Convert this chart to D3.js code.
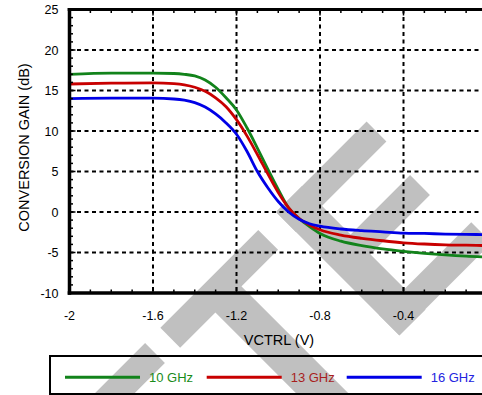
<!DOCTYPE html>
<html><head><meta charset="utf-8">
<script src="https://cdn.jsdelivr.net/npm/d3@7"></script>
<style>html,body{margin:0;padding:0;background:#fff;}svg{display:block;}</style>
</head><body>
<svg id="chart" width="482" height="395"></svg>
<script>
// ---- data ----
const vctrl = [-2.0,-1.8,-1.6,-1.5,-1.45,-1.4,-1.35,-1.3,-1.25,-1.2,-1.15,-1.1,-1.05,-1.0,-0.95,-0.9,-0.85,-0.8,-0.7,-0.6,-0.5,-0.4,-0.3,-0.2,-0.1,0.0];
const gain10 = [17.0,17.15,17.15,17.1,17.0,16.8,16.3,15.4,14.1,12.6,10.4,7.9,5.3,2.8,0.5,-0.8,-1.8,-2.65,-3.6,-4.15,-4.55,-4.85,-5.1,-5.3,-5.45,-5.55];
const gain13 = [15.8,15.9,15.95,15.85,15.7,15.4,14.9,14.1,13.0,11.4,9.4,7.1,4.7,2.4,0.5,-0.8,-1.6,-2.2,-2.85,-3.25,-3.55,-3.8,-3.95,-4.05,-4.1,-4.15];
const gain16 = [14.0,14.05,14.05,13.95,13.8,13.5,12.95,12.1,11.0,9.6,7.5,5.0,3.0,1.3,0.0,-0.9,-1.45,-1.75,-2.1,-2.3,-2.45,-2.6,-2.65,-2.72,-2.76,-2.8];
const seriesNames = ["10 GHz","13 GHz","16 GHz"];
const xTickValues = [-2,-1.6,-1.2,-0.8,-0.4];
const xTickLabels = ["-2","-1.6","-1.2","-0.8","-0.4"];
const yTickValues = [25,20,15,10,5,0,-5,-10];
const yTickLabels = ["25","20","15","10","5","0","-5","-10"];
const xTitle = "VCTRL (V)";
const yTitle = "CONVERSION GAIN (dB)";

// ---- styles ----
const lineColors = ["#12831b","#c80000","#0000e6"];
const textColors = ["#1a8c1a","#a81e1e","#2424e0"];
const font = "'Liberation Sans', Arial, Helvetica, sans-serif";

const svg = d3.select("#chart");
svg.append("rect").attr("width",482).attr("height",395).attr("fill","#fff");

const x = d3.scaleLinear().domain([-2,0]).range([69.5,487]);
const y = d3.scaleLinear().domain([-10,25]).range([293,9.5]);

// ---- watermark (decoration) ----
const wm = svg.append("g").attr("stroke","#c0c0c0").attr("fill","none").attr("stroke-linecap","butt");
// bands on 45deg lines: up-right (x+y=c, from x-y=d1..d2) or down-right (x-y=d, from x+y=c1..c2)
function up(c,d1,d2,w){ wm.append("line").attr("x1",(c+d1)/2).attr("y1",(c-d1)/2).attr("x2",(c+d2)/2).attr("y2",(c-d2)/2).attr("stroke-width",w); }
function down(d,c1,c2,w){ wm.append("line").attr("x1",(c1+d)/2).attr("y1",(c1-d)/2).attr("x2",(c2+d)/2).attr("y2",(c2-d)/2).attr("stroke-width",w); }
up(508,-300,-198,28);
up(508,-167.5,28.3,28);
down(-71,505,860,37);
up(508,64,245,28);
down(90,488,735,37);
up(605,90,235,28);
up(714,64,249,29);

// ---- grid ----
const grid = svg.append("g").attr("stroke","#000").attr("stroke-width",2).attr("stroke-dasharray","4,3.5");
grid.selectAll(".gx").data(xTickValues.slice(1)).join("line")
  .attr("x1",d=>x(d)).attr("x2",d=>x(d)).attr("y1",y(25)).attr("y2",y(-10));
grid.selectAll(".gy").data(yTickValues.slice(1,-1)).join("line")
  .attr("y1",d=>y(d)).attr("y2",d=>y(d)).attr("x1",x(-2)).attr("x2",490);

// ---- curves ----
const datasets = [gain10,gain13,gain16];
const line = d3.line().x(d=>x(d[0])).y(d=>y(d[1])).curve(d3.curveMonotoneX);
datasets.forEach((g,i)=>{
  svg.append("path").datum(vctrl.map((v,j)=>[v,g[j]]))
    .attr("d",line).attr("fill","none").attr("stroke",lineColors[i]).attr("stroke-width",2.8)
    .attr("stroke-linejoin","round");
});

// ---- axes frame & ticks ----
const ax = svg.append("g").attr("stroke","#000");
ax.append("line").attr("x1",x(-2)).attr("x2",x(-2)).attr("y1",y(25)-1.5).attr("y2",y(-10)+1.8).attr("stroke-width",3.5);
ax.append("line").attr("x1",x(-2)-1.8).attr("x2",490).attr("y1",y(-10)).attr("y2",y(-10)).attr("stroke-width",3.5);
ax.append("line").attr("x1",x(-2)-1.8).attr("x2",490).attr("y1",y(25)).attr("y2",y(25)).attr("stroke-width",3);

const xMinor = d3.range(-20,1).map(k=>k/10);
const yMinor = d3.range(-10,26);
const isXMajor = v => Math.abs(v*10/4 - Math.round(v*10/4))<1e-6;
ax.selectAll(".xtb").data(xMinor).join("line").attr("stroke-width",1.5)
  .attr("x1",d=>x(d)).attr("x2",d=>x(d)).attr("y1",y(-10)).attr("y2",d=>y(-10)-(isXMajor(d)?6:3.5));
ax.selectAll(".xtt").data(xMinor).join("line").attr("stroke-width",1.5)
  .attr("x1",d=>x(d)).attr("x2",d=>x(d)).attr("y1",y(25)).attr("y2",d=>y(25)+(isXMajor(d)?6:3.5));
ax.selectAll(".ytl").data(yMinor).join("line").attr("stroke-width",1.5)
  .attr("y1",d=>y(d)).attr("y2",d=>y(d)).attr("x1",x(-2)).attr("x2",d=>x(-2)+(d%5===0?6:3.5));

// ---- tick labels ----
const lab = svg.append("g").attr("font-family",font).attr("fill","#000");
lab.selectAll(".xl").data(xTickValues).join("text")
  .attr("x",d=>x(d)).attr("y",319.5).attr("text-anchor","middle").attr("font-size",12.5)
  .text((d,i)=>xTickLabels[i]);
lab.selectAll(".yl").data(yTickValues).join("text")
  .attr("x",58.5).attr("y",d=>y(d)).attr("dy","0.36em").attr("text-anchor","end").attr("font-size",12.5)
  .text((d,i)=>yTickLabels[i]);
lab.append("text").attr("x",279).attr("y",345).attr("text-anchor","middle").attr("font-size",14.5).text(xTitle);
lab.append("text").attr("transform","translate(28.5,147.5) rotate(-90)").attr("text-anchor","middle").attr("font-size",14.5).text(yTitle);

// ---- legend ----
const lg = svg.append("g");
lg.append("rect").attr("x",50).attr("y",356).attr("width",470).attr("height",38)
  .attr("fill","none").attr("stroke","#000").attr("stroke-width",2);
const legX = [65,206.7,346.7];
seriesNames.forEach((n,i)=>{
  lg.append("line").attr("x1",legX[i]).attr("x2",legX[i]+75).attr("y1",377.3).attr("y2",377.3)
    .attr("stroke",lineColors[i]).attr("stroke-width",3);
  lg.append("text").attr("x",legX[i]+84).attr("y",381.6).attr("font-family",font).attr("font-size",13)
    .attr("fill",textColors[i]).text(n);
});
</script>
</body></html>
